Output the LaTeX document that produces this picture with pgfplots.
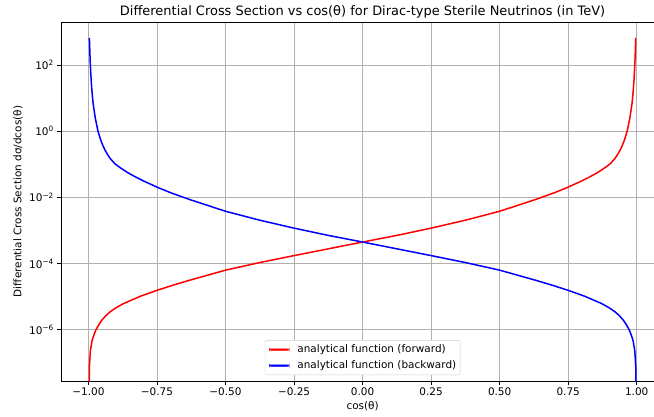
\documentclass[border=0pt]{standalone}
\usepackage{fontspec}
\setmainfont{DejaVu Sans}
\usepackage{pgfplots}
\pgfplotsset{compat=1.18}
\definecolor{gridgray}{HTML}{B0B0B0}
\definecolor{legframe}{HTML}{CCCCCC}

\begin{document}
\fontsize{10.5}{12.5}\selectfont
\begin{tikzpicture}
\begin{axis}[
  scale only axis,
  width=593bp, height=359bp,
  xmin=-1.1, xmax=1.063,
  ymode=log, ymin=2.82e-8, ymax=1995,
  axis x line=box, axis y line=left,
  y axis line style={-},
  axis line style={line width=0.8bp},
  tick pos=left,
  tick align=outside,
  major tick length=3.5bp,
  tick style={black, line width=0.8bp},
  grid=major,
  major grid style={gridgray, line width=0.8bp},
  xtick={-1,-0.75,-0.5,-0.25,0,0.25,0.5,0.75,1},
  xticklabels={−1.00,−0.75,−0.50,−0.25,0.00,0.25,0.50,0.75,1.00},
  ytick={1e-6,1e-4,1e-2,1,1e2},
  yticklabels={10\textsuperscript{−6},10\textsuperscript{−4},10\textsuperscript{−2},10\textsuperscript{0},10\textsuperscript{2}},
  minor ytick={},
  tick label style={font=\fontsize{10.5}{12.5}\selectfont, inner sep=0pt},
  xticklabel shift=3.5bp,
  yticklabel shift=3.5bp,
  title={Differential Cross Section vs cos(θ) for Dirac-type Sterile Neutrinos (in TeV)},
  title style={at={(0.5086,1)}, anchor=base, yshift=1bp, inner sep=0pt, font=\fontsize{13}{15}\selectfont},
  xlabel={cos(θ)},
  xlabel style={at={(axis description cs:0.5086,0)}, anchor=north, yshift=-20bp, inner sep=0pt, font=\fontsize{10.5}{12.5}\selectfont},
  ylabel={Differential Cross Section dσ/dcos(θ)},
  ylabel style={at={(axis description cs:-0.0641,0.5)}, anchor=south, inner sep=0pt, font=\fontsize{10.5}{12.5}\selectfont},
  legend style={at={(0.5086,0)}, anchor=south, yshift=6bp,
    draw=legframe, rounded corners=2bp, fill=white,
    inner sep=4bp, row sep=5.5bp, column sep=8bp,
    nodes={inner sep=0pt, text height=8bp, text depth=2.5bp},
    font=\fontsize{10.5}{12.5}\selectfont},
  legend cell align=left,
  legend image code/.code={\fill[#1] (0bp,-0.8bp) rectangle (20bp,0.8bp);},
]
\addlegendimage{red}
\addlegendentry{analytical function (forward)}
\addlegendimage{blue}
\addlegendentry{analytical function (backward)}
% forward
\addplot[red, line width=1.5bp, no markers, forget plot] coordinates {
(-1.0,1e-12) (-0.9964,7.586e-8) (-0.995,1.202e-7) (-0.9927,2.399e-7)
(-0.9895,3.388e-7) (-0.9865,4.786e-7) (-0.98,6.918e-7) (-0.973,9.772e-7)
(-0.963,1.380e-6) (-0.951,1.950e-6) (-0.936,2.692e-6) (-0.921,3.467e-6)
(-0.9,4.571e-6) (-0.872,6.166e-6) (-0.811,1.023e-5) (-0.75,1.549e-5)
(-0.69,2.239e-5) (-0.629,3.162e-5) (-0.5,6.310e-5) (-0.375,1.072e-4)
(-0.25,1.738e-4) (-0.125,2.786e-4) (0,4.467e-4) (0.125,7.079e-4)
(0.25,1.175e-3) (0.375,2.042e-3) (0.5,3.802e-3) (0.629,8.511e-3)
(0.7,1.380e-2) (0.75,2.042e-2) (0.8,3.162e-2) (0.831,4.266e-2)
(0.855,5.495e-2) (0.872,6.761e-2) (0.888,8.318e-2) (0.904,0.1047)
(0.92,0.1479) (0.93,0.1950) (0.94,0.2754) (0.948,0.3802)
(0.955,0.5370) (0.965,1.0) (0.975,2.512)
(0.983,7.079) (0.987,15.85) (0.99,35.48) (0.993,100)
(0.995,281.8) (0.9964,660.7)
};
% backward
\addplot[blue, line width=1.5bp, no markers, forget plot] coordinates {
(-0.9964,660.7) (-0.995,281.8) (-0.993,100) (-0.99,35.48)
(-0.987,15.85) (-0.983,7.079) (-0.975,2.512) (-0.965,1.0)
(-0.955,0.5370) (-0.948,0.3802) (-0.94,0.2754) (-0.93,0.1950)
(-0.92,0.1479) (-0.904,0.1047) (-0.888,8.318e-2)
(-0.872,6.761e-2) (-0.855,5.495e-2) (-0.831,4.266e-2) (-0.8,3.162e-2)
(-0.75,2.042e-2) (-0.7,1.380e-2) (-0.629,8.511e-3) (-0.5,3.802e-3)
(-0.375,2.042e-3) (-0.25,1.175e-3) (-0.125,7.079e-4) (0,4.467e-4)
(0.125,2.786e-4) (0.25,1.738e-4) (0.375,1.072e-4) (0.5,6.310e-5)
(0.629,3.162e-5) (0.69,2.239e-5) (0.75,1.549e-5) (0.811,1.023e-5)
(0.872,6.166e-6) (0.9,4.571e-6) (0.921,3.467e-6) (0.936,2.692e-6)
(0.951,1.950e-6) (0.963,1.380e-6) (0.973,9.772e-7) (0.98,6.918e-7)
(0.9865,4.786e-7) (0.9895,3.388e-7) (0.9927,2.399e-7) (0.995,1.202e-7)
(0.9964,7.586e-8) (1.0,1e-12)
};
\end{axis}
\pgfresetboundingbox
\useasboundingbox ([shift={(-61bp,-36bp)}]current axis.south west) rectangle ++(654bp,417bp);
\end{tikzpicture}
\end{document}
